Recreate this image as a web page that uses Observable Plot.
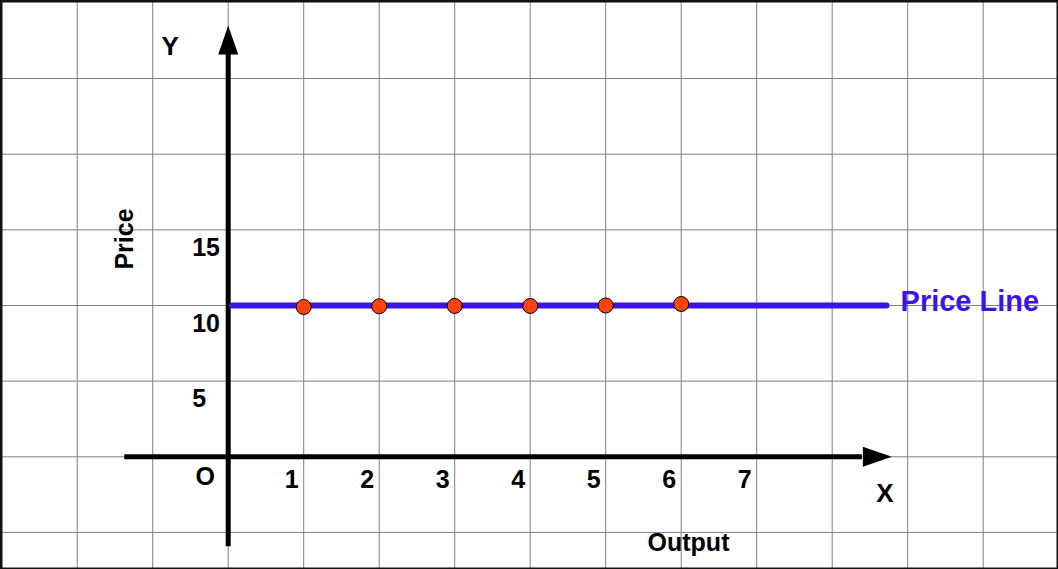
<!DOCTYPE html>
<html>
<head>
<meta charset="utf-8">
<script src="https://cdn.jsdelivr.net/npm/d3@7"></script>
<script src="https://cdn.jsdelivr.net/npm/@observablehq/plot@0.6"></script>
<style>
  html, body { margin: 0; padding: 0; background: #fff; }
  #chart svg { display: block; }
</style>
</head>
<body>
<div id="chart"></div>
<script>
// ---- data ----
const outputs = [1, 2, 3, 4, 5, 6];
const prices = [9.9, 9.95, 9.97, 9.97, 10.0, 10.1];
const priceLevel = 10;
const priceLineExtent = [0.05, 8.72];
const xTicks = [1, 2, 3, 4, 5, 6, 7];
const yTicks = [5, 10, 15];
const xGrid = [-2, -1, 0, 1, 2, 3, 4, 5, 6, 7, 8, 9, 10];
const yGrid = [-5, 0, 5, 10, 15, 20, 25];
const xAxisExtent = [-1.37, 8.4, 8.79];   // start, arrow base, arrow tip
const yAxisExtent = [-5.95, 26.6, 28.5];  // start, arrow base, arrow tip
const labels = { x: "X", y: "Y", origin: "O", xTitle: "Output", yTitle: "Price", line: "Price Line" };

const points = outputs.map((o, i) => ({output: o, price: prices[i]}));
const priceLine = priceLineExtent.map(o => ({output: o, price: priceLevel}));

const FONT = "Liberation Sans, Arial, sans-serif";
const BLUE = "#3c14e6";

// filled arrowheads (tip at the symbol origin)
const arrowUp = {draw(ctx, size) { const r = Math.sqrt(size / Math.PI);
  ctx.moveTo(0, 0); ctx.lineTo(-r, 2.9 * r); ctx.lineTo(r, 2.9 * r); ctx.closePath(); }};
const arrowRight = {draw(ctx, size) { const r = Math.sqrt(size / Math.PI);
  ctx.moveTo(0, 0); ctx.lineTo(-2.9 * r, -r); ctx.lineTo(-2.9 * r, r); ctx.closePath(); }};

const bold = {fontFamily: FONT, fontWeight: "bold", fill: "black"};

const chart = Plot.plot({
  width: 1058,
  height: 569,
  margin: 0,
  style: {background: "#fff", overflow: "visible"},
  x: {domain: [0, 1], range: [227.7, 303.2], axis: null},
  y: {domain: [0, 10], range: [456.3, 305], axis: null},
  marks: [
    Plot.ruleX(xGrid, {x: d => d, stroke: "#808080", strokeWidth: 1}),
    Plot.ruleY(yGrid, {y: d => d, stroke: "#808080", strokeWidth: 1}),
    Plot.frame({stroke: "#111", strokeWidth: 4}),
    // axes
    Plot.ruleX([0], {x: d => d, y1: yAxisExtent[0], y2: yAxisExtent[1], stroke: "black", strokeWidth: 5}),
    Plot.ruleY([0], {y: d => d, x1: xAxisExtent[0], x2: xAxisExtent[1], stroke: "black", strokeWidth: 5}),
    Plot.dot([{x: 0, y: yAxisExtent[2]}], {x: "x", y: "y", symbol: arrowUp, r: 10, fill: "black", stroke: null}),
    Plot.dot([{x: xAxisExtent[2], y: 0}], {x: "x", y: "y", symbol: arrowRight, r: 10, fill: "black", stroke: null}),
    // price line and points
    Plot.line(priceLine, {x: "output", y: "price", stroke: BLUE, strokeWidth: 6}),
    Plot.dot(points, {x: "output", y: "price", r: 7.5, fill: "#ff420e", stroke: "black", strokeWidth: 1}),
    // tick labels
    Plot.text(xTicks, {x: d => d, y: d => 0, text: d => String(d), dx: -12, dy: 23, fontSize: 25, ...bold}),
    Plot.text(yTicks, {x: d => 0, y: d => d, text: d => String(d), dx: -36, dy: 18, textAnchor: "start", fontSize: 25, ...bold}),
    Plot.text([labels.origin], {x: d => 0, y: d => 0, text: d => d, dx: -23, dy: 20, fontSize: 25, ...bold}),
    // axis names
    Plot.text([labels.y], {x: d => 0, y: d => yAxisExtent[2], text: d => d, dx: -58, dy: 21, fontSize: 26, ...bold}),
    Plot.text([labels.x], {x: d => xAxisExtent[2], y: d => 0, text: d => d, dx: -7, dy: 37, fontSize: 26, ...bold}),
    Plot.text([labels.xTitle], {frameAnchor: "bottom", text: d => d, textAnchor: "middle", lineAnchor: "middle", dx: 159, dy: -27, fontSize: 25, ...bold}),
    Plot.text([labels.yTitle], {frameAnchor: "left", text: d => d, textAnchor: "middle", lineAnchor: "middle", dx: 124, dy: -46, rotate: -90, fontSize: 25, ...bold}),
    Plot.text([labels.line], {x: d => priceLineExtent[1], y: d => priceLevel, text: d => d, dx: 14, dy: -4, textAnchor: "start", fontSize: 29, fontFamily: FONT, fontWeight: "bold", fill: BLUE})
  ]
});
document.getElementById("chart").appendChild(chart);
</script>
</body>
</html>
